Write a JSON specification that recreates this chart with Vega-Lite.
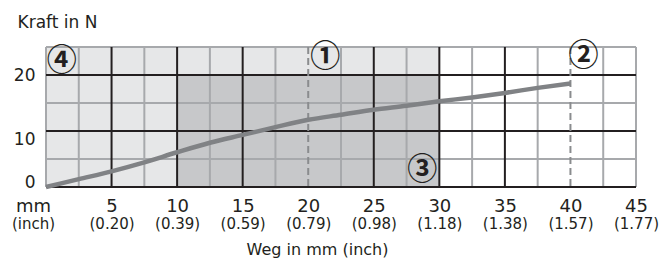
{
  "$schema": "https://vega.github.io/schema/vega-lite/v6.json",
  "width": 590,
  "height": 140,
  "autosize": {"type": "none"},
  "padding": {"left": 46, "top": 47, "right": 27, "bottom": 73},
  "background": "white",
  "config": {"view": {"stroke": null}, "font": "DejaVu Sans"},
  "datasets": {
    "shades": [
      {"x0": 0, "x1": 30, "y0": 0, "y1": 25, "c": "light"},
      {"x0": 10, "x1": 30, "y0": 0, "y1": 20, "c": "dark"}
    ],
    "vgrid": [
      {"x": 0, "k": "minor"}, {"x": 2.5, "k": "minor"}, {"x": 7.5, "k": "minor"}, {"x": 12.5, "k": "minor"},
      {"x": 17.5, "k": "minor"}, {"x": 22.5, "k": "minor"}, {"x": 27.5, "k": "minor"}, {"x": 32.5, "k": "minor"},
      {"x": 37.5, "k": "minor"}, {"x": 42.5, "k": "minor"}, {"x": 45, "k": "minor"},
      {"x": 5, "k": "major"}, {"x": 10, "k": "major"}, {"x": 15, "k": "major"}, {"x": 25, "k": "major"},
      {"x": 30, "k": "major"}, {"x": 35, "k": "major"}
    ],
    "hgrid": [
      {"y": 5, "k": "minor"}, {"y": 15, "k": "minor"}, {"y": 25, "k": "minor"},
      {"y": 0, "k": "major"}, {"y": 10, "k": "major"}, {"y": 20, "k": "major"}
    ],
    "curve": [
      {"weg": 0, "kraft": 0}, {"weg": 2.5, "kraft": 1.4}, {"weg": 5, "kraft": 2.8}, {"weg": 7.5, "kraft": 4.4},
      {"weg": 10, "kraft": 6.2}, {"weg": 12.5, "kraft": 7.9}, {"weg": 15, "kraft": 9.3}, {"weg": 17.5, "kraft": 10.7},
      {"weg": 20, "kraft": 12.0}, {"weg": 22.5, "kraft": 12.9}, {"weg": 25, "kraft": 13.8}, {"weg": 27.5, "kraft": 14.5},
      {"weg": 30, "kraft": 15.3}, {"weg": 32.5, "kraft": 16.0}, {"weg": 35, "kraft": 16.8}, {"weg": 37.5, "kraft": 17.7},
      {"weg": 40, "kraft": 18.5}
    ],
    "dashed": [{"x": 20}, {"x": 40}],
    "marks": [
      {"x": 1.2, "y": 22.5, "t": "④"},
      {"x": 21.3, "y": 23.2, "t": "①"},
      {"x": 41.0, "y": 23.4, "t": "②"},
      {"x": 28.7, "y": 3.0, "t": "③"}
    ]
  },
  "resolve": {"axis": {"x": "independent", "y": "independent"}},
  "layer": [
    {
      "data": {"name": "shades"},
      "mark": {"type": "rect"},
      "encoding": {
        "x": {"field": "x0", "type": "quantitative", "scale": {"domain": [0, 45], "nice": false, "zero": false},
          "axis": {"orient": "bottom", "values": [0, 5, 10, 15, 20, 25, 30, 35, 40, 45], "grid": false, "ticks": false, "domain": false,
            "labelExpr": "datum.value == 0 ? 'mm' : datum.label", "labelFontSize": 18, "labelColor": "#231f20",
            "labelFont": "DejaVu Sans", "labelPadding": 10.5, "labelFlush": false, "labelOverlap": false,
            "labelOffset": {"condition": {"test": "datum.value == 0", "value": -13}, "value": 0}, "title": null}},
        "x2": {"field": "x1"},
        "y": {"field": "y0", "type": "quantitative", "scale": {"domain": [0, 25], "nice": false, "zero": false},
          "axis": {"orient": "left", "values": [0, 10, 20], "grid": false, "ticks": false, "domain": false, "labelFontSize": 17,
            "labelColor": "#231f20", "labelFont": "DejaVu Sans", "labelPadding": 11, "labelFlush": false, "labelOverlap": false,
            "labelBaseline": {"condition": [{"test": "datum.value == 10", "value": "top"}, {"test": "datum.value == 0", "value": "alphabetic"}], "value": "middle"},
            "title": "Kraft in N", "titleAngle": 0, "titleAlign": "left", "titleBaseline": "alphabetic",
            "titleX": -29, "titleY": -20, "titleFontSize": 17, "titleFontWeight": "normal", "titleColor": "#231f20", "titleFont": "DejaVu Sans"}},
        "y2": {"field": "y1"},
        "color": {"field": "c", "type": "nominal", "scale": {"domain": ["light", "dark"], "range": ["#e6e7e8", "#c7c8ca"]}, "legend": null}
      }
    },
    {
      "data": {"name": "vgrid"},
      "transform": [{"filter": "datum.k == 'minor'"}],
      "mark": {"type": "rule", "color": "#a7a9ac", "strokeWidth": 2},
      "encoding": {
        "x": {"field": "x", "type": "quantitative", "scale": {"domain": [0, 45], "nice": false, "zero": false},
          "axis": {"orient": "bottom", "values": [0, 5, 10, 15, 20, 25, 30, 35, 40, 45], "grid": false, "ticks": false, "domain": false,
            "labelExpr": "datum.value == 0 ? '(inch)' : '(' + format(datum.value / 25.4, '.2f') + ')'",
            "labelFontSize": 15, "labelColor": "#231f20", "labelFont": "DejaVu Sans", "labelPadding": 29.5,
            "labelFlush": false, "labelOverlap": false,
            "labelOffset": {"condition": {"test": "datum.value == 0", "value": -13}, "value": 0},
            "title": "Weg in mm (inch)", "titleFontSize": 16, "titleFontWeight": "normal", "titleColor": "#231f20",
            "titleFont": "DejaVu Sans", "titleX": 271, "titleY": 67, "titleAlign": "center", "titleBaseline": "alphabetic", "titleAnchor": null}}
      }
    },
    {
      "data": {"name": "hgrid"},
      "transform": [{"filter": "datum.k == 'minor'"}],
      "mark": {"type": "rule", "color": "#a7a9ac", "strokeWidth": 2},
      "encoding": {
        "y": {"field": "y", "type": "quantitative", "scale": {"domain": [0, 25], "nice": false, "zero": false}, "axis": null}
      }
    },
    {
      "data": {"name": "vgrid"},
      "transform": [{"filter": "datum.k == 'major'"}],
      "mark": {"type": "rule", "color": "#231f20", "strokeWidth": 2},
      "encoding": {
        "x": {"field": "x", "type": "quantitative", "scale": {"domain": [0, 45], "nice": false, "zero": false}, "axis": null}
      }
    },
    {
      "data": {"name": "hgrid"},
      "transform": [{"filter": "datum.k == 'major'"}],
      "mark": {"type": "rule", "color": "#231f20", "strokeWidth": 2},
      "encoding": {
        "y": {"field": "y", "type": "quantitative", "scale": {"domain": [0, 25], "nice": false, "zero": false}, "axis": null}
      }
    },
    {
      "data": {"name": "dashed"},
      "mark": {"type": "rule", "color": "#8a8c8e", "strokeWidth": 2, "strokeDash": [7, 4]},
      "encoding": {
        "x": {"field": "x", "type": "quantitative", "scale": {"domain": [0, 45], "nice": false, "zero": false}, "axis": null}
      }
    },
    {
      "data": {"name": "curve"},
      "mark": {"type": "line", "color": "#808285", "strokeWidth": 4.5, "strokeCap": "butt", "interpolate": "monotone"},
      "encoding": {
        "x": {"field": "weg", "type": "quantitative", "scale": {"domain": [0, 45], "nice": false, "zero": false}, "axis": null},
        "y": {"field": "kraft", "type": "quantitative", "scale": {"domain": [0, 25], "nice": false, "zero": false}, "axis": null}
      }
    },
    {
      "data": {"name": "marks"},
      "mark": {"type": "text", "font": "Noto Sans CJK JP", "fontSize": 30, "fontWeight": "bold", "color": "#231f20", "align": "center", "baseline": "middle"},
      "encoding": {
        "x": {"field": "x", "type": "quantitative", "scale": {"domain": [0, 45], "nice": false, "zero": false}, "axis": null},
        "y": {"field": "y", "type": "quantitative", "scale": {"domain": [0, 25], "nice": false, "zero": false}, "axis": null},
        "text": {"field": "t"}
      }
    }
  ]
}
